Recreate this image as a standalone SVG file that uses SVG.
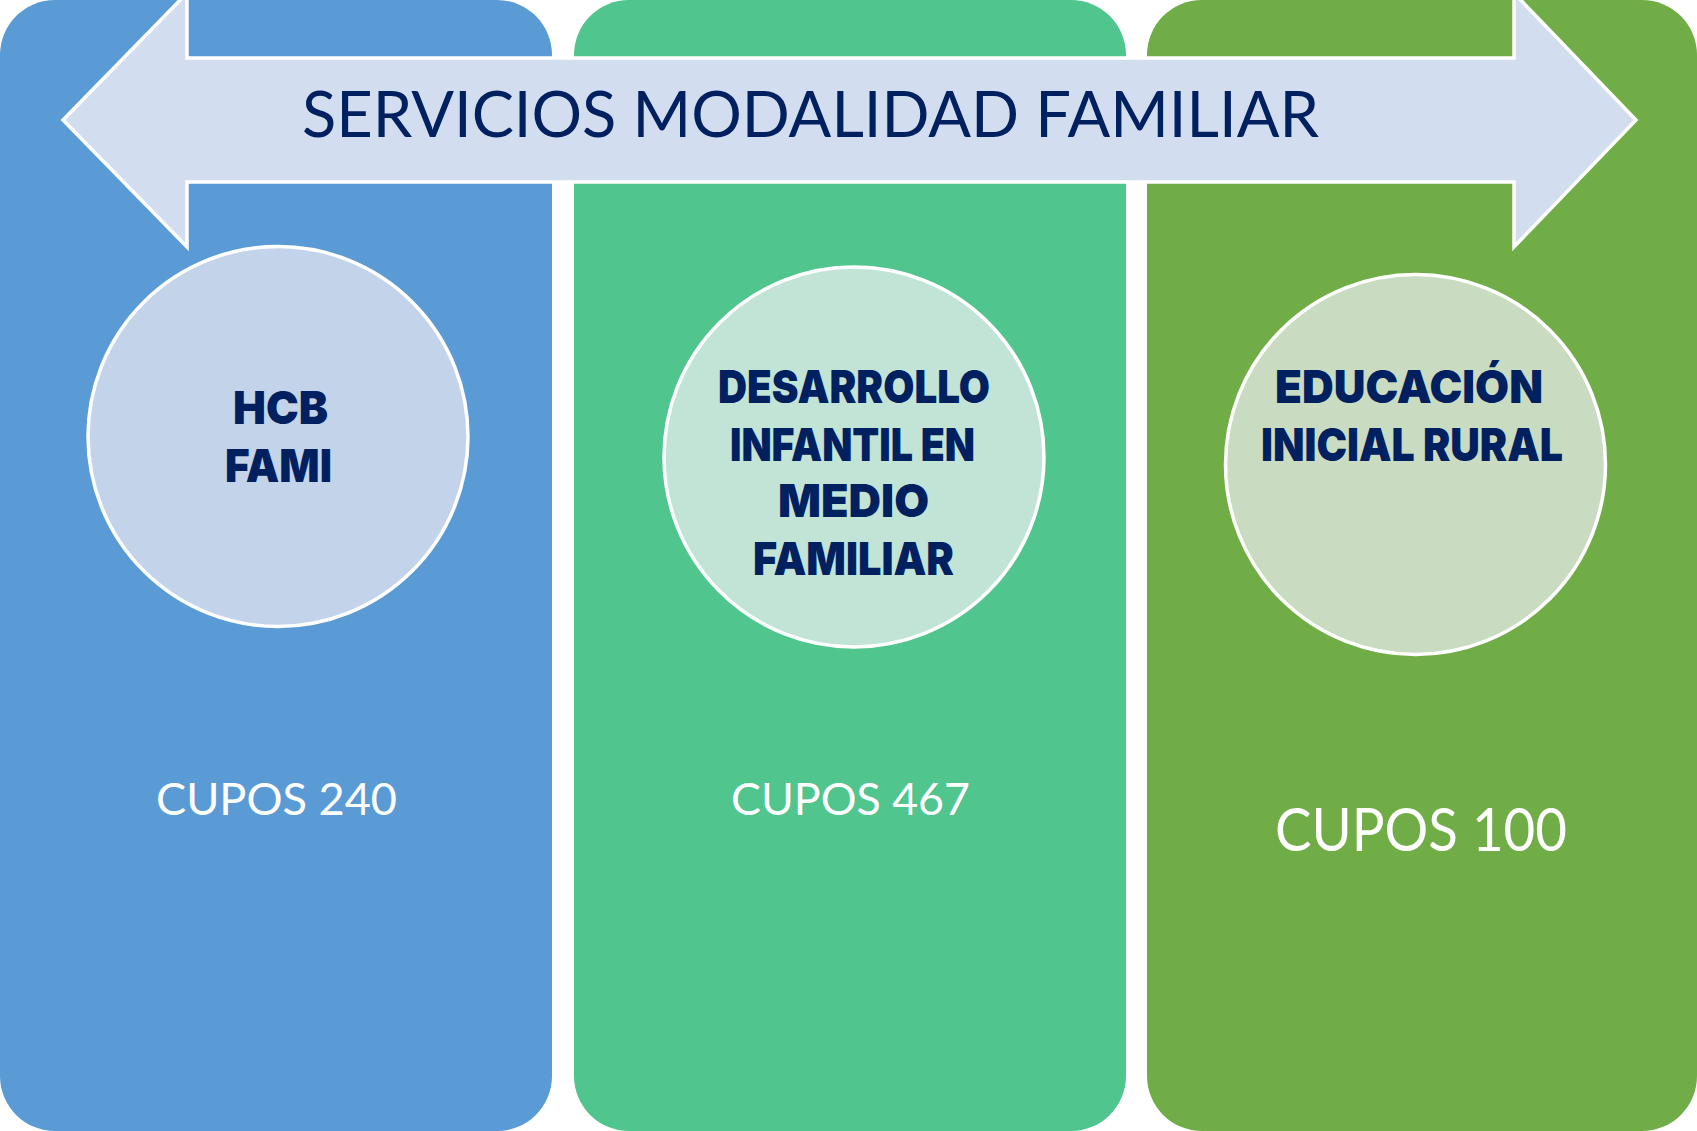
<svg xmlns="http://www.w3.org/2000/svg" width="1697" height="1131" viewBox="0 0 1697 1131">
<style>
.circ{stroke:#ffffff;stroke-width:3.5}
.title{font-family:Lato,"Open Sans","Liberation Sans",sans-serif;font-size:64px;fill:#002060}
.cupos{font-family:Lato,"Open Sans","Liberation Sans",sans-serif;fill:#ffffff;text-anchor:middle}
.bold{font-family:Inter,"DejaVu Sans","Liberation Sans",sans-serif;font-weight:900;font-size:46px;fill:#002060;text-anchor:middle}
</style>
<rect width="1697" height="1131" fill="#ffffff"/>
<g id="panel-hcb">
  <rect x="0" y="0" width="552" height="1131" rx="55" ry="55" fill="#5B9BD5"/>
</g>
<g id="panel-dimf">
  <rect x="574" y="0" width="552" height="1131" rx="55" ry="55" fill="#50C58E"/>
</g>
<g id="panel-eir">
  <rect x="1147" y="0" width="550" height="1131" rx="55" ry="55" fill="#70AD47"/>
</g>
<g id="banner">
  <path d="M63,120 L187,-7 L187,58 L1514,58 L1514,-7 L1636,120 L1514,247 L1514,182 L187,182 L187,247 Z" fill="#D2DEEF" stroke="#ffffff" stroke-width="3.5" stroke-linejoin="miter"/>
  <text class="title" x="302" y="137" textLength="1017" lengthAdjust="spacingAndGlyphs">SERVICIOS MODALIDAD FAMILIAR</text>
</g>
<g id="node-hcb">
  <circle class="circ" cx="278" cy="436.5" r="190" fill="#C3D4EA"/>
  <text class="bold" x="280.5" y="424" textLength="95" lengthAdjust="spacingAndGlyphs">HCB</text>
  <text class="bold" x="278.5" y="482" textLength="107" lengthAdjust="spacingAndGlyphs">FAMI</text>
</g>
<g id="node-dimf">
  <circle class="circ" cx="854" cy="457" r="190" fill="#C2E4D7"/>
  <text class="bold" x="854" y="403" textLength="272" lengthAdjust="spacingAndGlyphs">DESARROLLO</text>
  <text class="bold" x="852.5" y="461" textLength="245" lengthAdjust="spacingAndGlyphs">INFANTIL EN</text>
  <text class="bold" x="853.5" y="517" textLength="151" lengthAdjust="spacingAndGlyphs">MEDIO</text>
  <text class="bold" x="853.5" y="575" textLength="201" lengthAdjust="spacingAndGlyphs">FAMILIAR</text>
</g>
<g id="node-eir">
  <circle class="circ" cx="1415.5" cy="464.5" r="190" fill="#C9DCC1"/>
  <text class="bold" x="1409" y="403" textLength="268" lengthAdjust="spacingAndGlyphs">EDUCACIÓN</text>
  <text class="bold" x="1412" y="461" textLength="302" lengthAdjust="spacingAndGlyphs">INICIAL RURAL</text>
</g>
<g id="label-cupos-240">
  <text class="cupos" x="276.5" y="815" font-size="45" textLength="241" lengthAdjust="spacingAndGlyphs">CUPOS 240</text>
</g>
<g id="label-cupos-467">
  <text class="cupos" x="850.5" y="815" font-size="45" textLength="239" lengthAdjust="spacingAndGlyphs">CUPOS 467</text>
</g>
<g id="label-cupos-100">
  <text class="cupos" x="1421" y="851" font-size="60" textLength="292" lengthAdjust="spacingAndGlyphs">CUPOS 100</text>
</g>
</svg>
